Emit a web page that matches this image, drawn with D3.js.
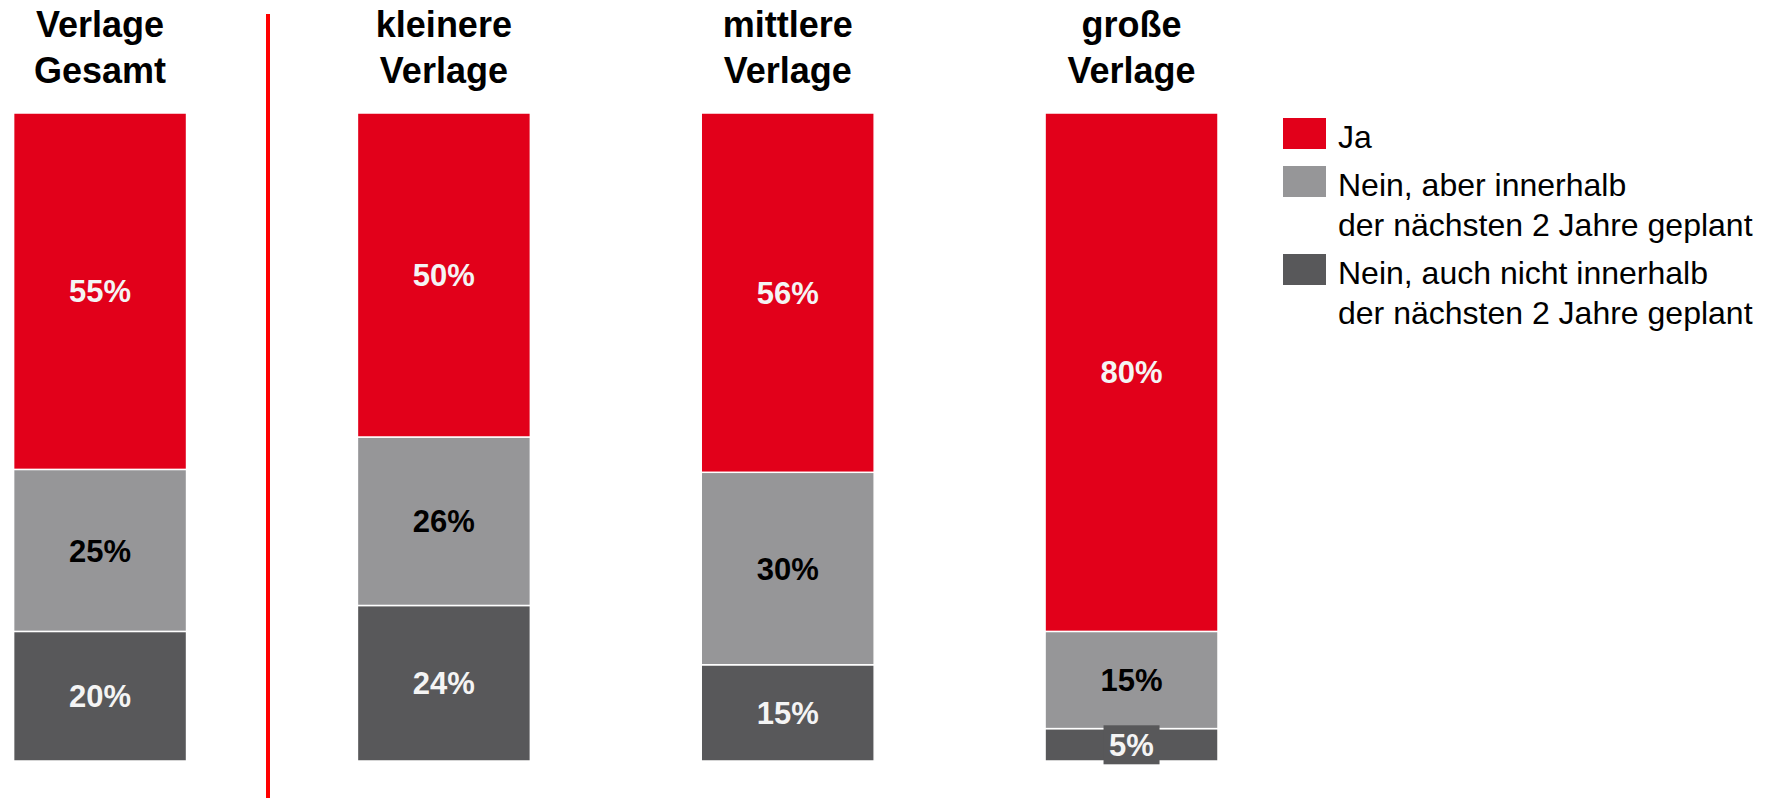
<!DOCTYPE html>
<html><head><meta charset="utf-8">
<script src="https://cdn.jsdelivr.net/npm/d3@7"></script>
<style>
html,body{margin:0;padding:0;background:#fff;}
svg{display:block;font-family:"Liberation Sans",Arial,Helvetica,sans-serif;}
</style></head>
<body>
<svg id="chart" width="1775" height="798"></svg>
<script>
const categories = ["Verlage Gesamt", "kleinere Verlage", "mittlere Verlage", "große Verlage"];
const titleLines = [["Verlage", "Gesamt"], ["kleinere", "Verlage"], ["mittlere", "Verlage"], ["große", "Verlage"]];
const seriesNames = ["Ja", "Nein, aber innerhalb der nächsten 2 Jahre geplant", "Nein, auch nicht innerhalb der nächsten 2 Jahre geplant"];
const legendLines = [["Ja"], ["Nein, aber innerhalb", "der nächsten 2 Jahre geplant"], ["Nein, auch nicht innerhalb", "der nächsten 2 Jahre geplant"]];
const ja = [55, 50, 56, 80];
const neinGeplant = [25, 26, 30, 15];
const neinNicht = [20, 24, 15, 5];
const colors = ["#e2001a", "#969698", "#58585a"];
const labelColors = ["#f4f4f4", "#000000", "#f4f4f4"];

const svg = d3.select("#chart");
const series = [ja, neinGeplant, neinNicht];

const x = d3.scaleBand().domain(categories).range([13.6, 1218]).paddingInner(0.497).paddingOuter(0);
const y = d3.scaleLinear().domain([0, 1]).range([761, 113]);

const stacked = categories.map((c, i) => {
  const vals = series.map(s => s[i]);
  const total = d3.sum(vals);
  let acc = 0;
  const segs = [];
  for (let k = series.length - 1; k >= 0; k--) {
    const y0 = acc / total;
    acc += vals[k];
    const y1 = acc / total;
    segs.push({cat: c, k, v: vals[k], y0, y1});
  }
  return segs;
}).flat();

svg.append("g").selectAll("rect").data(stacked).join("rect")
  .attr("x", d => x(d.cat))
  .attr("width", x.bandwidth())
  .attr("y", d => y(d.y1))
  .attr("height", d => y(d.y0) - y(d.y1))
  .attr("fill", d => colors[d.k])
  .attr("stroke", "#ffffff")
  .attr("stroke-width", 1.5);

const lg = svg.append("g");
stacked.forEach(d => {
  const cx = x(d.cat) + x.bandwidth() / 2;
  const cy = (y(d.y0) + y(d.y1)) / 2;
  const h = y(d.y0) - y(d.y1);
  if (h < 36) {
    lg.append("rect").attr("x", cx - 28).attr("y", cy - 19.5).attr("width", 56).attr("height", 39)
      .attr("fill", colors[d.k]);
  }
  lg.append("text").attr("x", cx).attr("y", cy).attr("dy", "0.36em")
    .attr("text-anchor", "middle").attr("font-weight", "bold").attr("font-size", 31)
    .attr("fill", labelColors[d.k]).text(d.v + "%");
});

categories.forEach((c, i) => {
  const cx = x(c) + x.bandwidth() / 2;
  const t = svg.append("text").attr("text-anchor", "middle").attr("font-weight", "bold")
    .attr("font-size", 36).attr("fill", "#000");
  titleLines[i].forEach((ln, j) => {
    t.append("tspan").attr("x", cx).attr("y", 37 + j * 45.5).text(ln);
  });
});

svg.append("line").attr("x1", 268).attr("x2", 268).attr("y1", 14).attr("y2", 798)
  .attr("stroke", "#ff0000").attr("stroke-width", 4);

const legRows = [118, 166, 254];
const leg = svg.append("g");
seriesNames.forEach((s, k) => {
  leg.append("rect").attr("x", 1283).attr("y", legRows[k]).attr("width", 43).attr("height", 31)
    .attr("fill", colors[k]);
  const t = leg.append("text").attr("font-size", 32).attr("fill", "#000");
  legendLines[k].forEach((ln, j) => {
    t.append("tspan").attr("x", 1338).attr("y", legRows[k] + 30 + j * 40).text(ln);
  });
});
</script>
</body></html>
